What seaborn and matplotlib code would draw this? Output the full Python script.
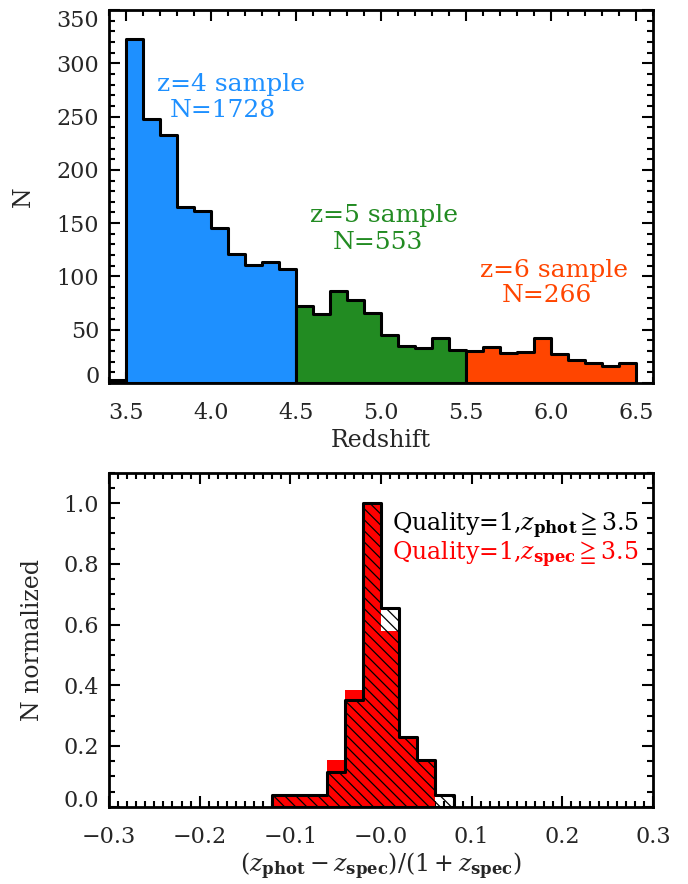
import numpy as np
import seaborn as sns
import matplotlib
matplotlib.use("Agg")
import matplotlib.pyplot as plt

# top panel: redshift histograms (bin width 0.1)
bin_w = 0.1
low_edges = [3.4]
low_counts = [3]
z4_edges = [3.5, 3.6, 3.7, 3.8, 3.9, 4.0, 4.1, 4.2, 4.3, 4.4]
z4_counts = [323, 248, 233, 165, 161, 145, 121, 111, 114, 107]
z5_edges = [4.5, 4.6, 4.7, 4.8, 4.9, 5.0, 5.1, 5.2, 5.3, 5.4]
z5_counts = [72, 65, 86, 78, 66, 45, 35, 33, 42, 31]
z6_edges = [5.5, 5.6, 5.7, 5.8, 5.9, 6.0, 6.1, 6.2, 6.3, 6.4]
z6_counts = [30, 34, 28, 29, 42, 27, 22, 19, 16, 19]
top_yticks = [0, 50, 100, 150, 200, 250, 300, 350]
top_xticks = [3.5, 4.0, 4.5, 5.0, 5.5, 6.0, 6.5]

# bottom panel: (zphot - zspec)/(1+zspec), bin width 0.02
dz_w = 0.02
dz_edges = [-0.12, -0.10, -0.08, -0.06, -0.04, -0.02, 0.00, 0.02, 0.04, 0.06]
n_phot = [0.04, 0.04, 0.04, 0.115, 0.35, 1.0, 0.655, 0.23, 0.155, 0.04]
n_spec = [0.04, 0.04, 0.04, 0.155, 0.385, 1.0, 0.58, 0.23, 0.155, 0.0]
bot_yticks = [0.0, 0.2, 0.4, 0.6, 0.8, 1.0]
bot_xticks = [-0.3, -0.2, -0.1, 0.0, 0.1, 0.2, 0.3]

sns.set_style("ticks")
plt.rcParams["font.family"] = ["DejaVu Serif", "DejaVu Sans"]
plt.rcParams["mathtext.fontset"] = "dejavuserif"
plt.rcParams["hatch.linewidth"] = 0.9
plt.rcParams["hatch.color"] = "black"

fig = plt.figure(figsize=(6.88, 8.84), dpi=100)
ax1 = fig.add_axes([109 / 688, 1 - 383 / 884, 544 / 688, 373 / 884])
ax2 = fig.add_axes([109 / 688, 1 - 806.7 / 884, 544 / 688, 334 / 884])


def step_hist(ax, lefts, vals, width, color, lw=2.2):
    edges = list(lefts) + [lefts[-1] + width]
    centers = [l + width / 2 for l in lefts]
    sns.histplot(x=centers, weights=vals, bins=edges, element="step", fill=True,
                 color=color, edgecolor="black", linewidth=lw, alpha=1, ax=ax)
    return ax.collections[-1]


# ---- top panel
step_hist(ax1, low_edges, low_counts, bin_w, "white")
step_hist(ax1, z4_edges, z4_counts, bin_w, "#1E90FF")
step_hist(ax1, z5_edges, z5_counts, bin_w, "#228B22")
step_hist(ax1, z6_edges, z6_counts, bin_w, "#FF4500")

fs_note = 18
ax1.text(4.118, 280, "z=4 sample", color="#1E90FF", fontsize=fs_note, ha="center", va="center")
ax1.text(4.07, 256, "N=1728", color="#1E90FF", fontsize=fs_note, ha="center", va="center")
ax1.text(5.018, 157, "z=5 sample", color="#228B22", fontsize=fs_note, ha="center", va="center")
ax1.text(4.98, 132, "N=553", color="#228B22", fontsize=fs_note, ha="center", va="center")
ax1.text(6.018, 106, "z=6 sample", color="#FF4500", fontsize=fs_note, ha="center", va="center")
ax1.text(5.976, 82.5, "N=266", color="#FF4500", fontsize=fs_note, ha="center", va="center")

ax1.set_xlim(3.4, 6.6)
ax1.set_ylim(0, 350)
ax1.set_xticks(top_xticks)
ax1.set_xticklabels([f"{t:.1f}" for t in top_xticks])
ax1.set_yticks(top_yticks)
ax1.set_yticklabels([str(t) for t in top_yticks])
ax1.set_xticks(np.arange(3.4, 6.61, 0.1), minor=True)
ax1.set_yticks(np.arange(0, 351, 10), minor=True)
ax1.set_xlabel("Redshift", fontsize=17)
ax1.set_ylabel("N", fontsize=17)
ax1.xaxis.set_label_coords(0.5, -0.124)
ax1.yaxis.set_label_coords(-0.137, 0.5)

# ---- bottom panel
step_hist(ax2, dz_edges, n_spec, dz_w, "red", lw=0)
hatched = step_hist(ax2, dz_edges, n_phot, dz_w, "white")
hatched.set_facecolor("none")
hatched.set_hatch("\\\\\\")

ax2.text(0.012, 0.925, r"Quality=1,$z_{\mathbf{phot}}\geqq$3.5", color="black",
         fontsize=17, ha="left", va="center")
ax2.text(0.012, 0.83, r"Quality=1,$z_{\mathbf{spec}}\geqq$3.5", color="red",
         fontsize=17, ha="left", va="center")

ax2.set_xlim(-0.3, 0.3)
ax2.set_ylim(0, 1.1)
ax2.set_xticks(bot_xticks)
ax2.set_xticklabels([f"{t:.1f}".replace("-", "\u2212") if t != 0 else "\u22120.0" for t in bot_xticks])
ax2.set_yticks(bot_yticks)
ax2.set_yticklabels([f"{t:.1f}" for t in bot_yticks])
ax2.set_xticks(np.arange(-0.3, 0.301, 0.01), minor=True)
ax2.set_yticks(np.arange(0, 1.101, 0.05), minor=True)
ax2.set_xlabel(r"$(z_{\mathbf{phot}}-z_{\mathbf{spec}})/(1+z_{\mathbf{spec}})$", fontsize=17)
ax2.set_ylabel("N normalized", fontsize=17)
ax2.xaxis.set_label_coords(0.5, -0.13)
ax2.yaxis.set_label_coords(-0.12, 0.5)

for ax in (ax1, ax2):
    for s in ax.spines.values():
        s.set_linewidth(2)
        s.set_color("black")
        s.set_zorder(5)
    ax.tick_params(which="both", direction="in", top=True, right=True, width=1.5,
                   color="black", labelsize=16)
    ax.tick_params(which="major", length=8)
    ax.tick_params(which="minor", length=4)
    ax.tick_params(axis="x", which="major", pad=14)
    ax.tick_params(axis="y", which="major", pad=7)

# keep end labels inside the axis like the original
ylab1 = ax1.get_yticklabels()
ylab1[0].set_va("baseline")
ylab1[-1].set_va("top")
ax2.get_yticklabels()[0].set_va("baseline")

fig.savefig("out.png", dpi=100)
